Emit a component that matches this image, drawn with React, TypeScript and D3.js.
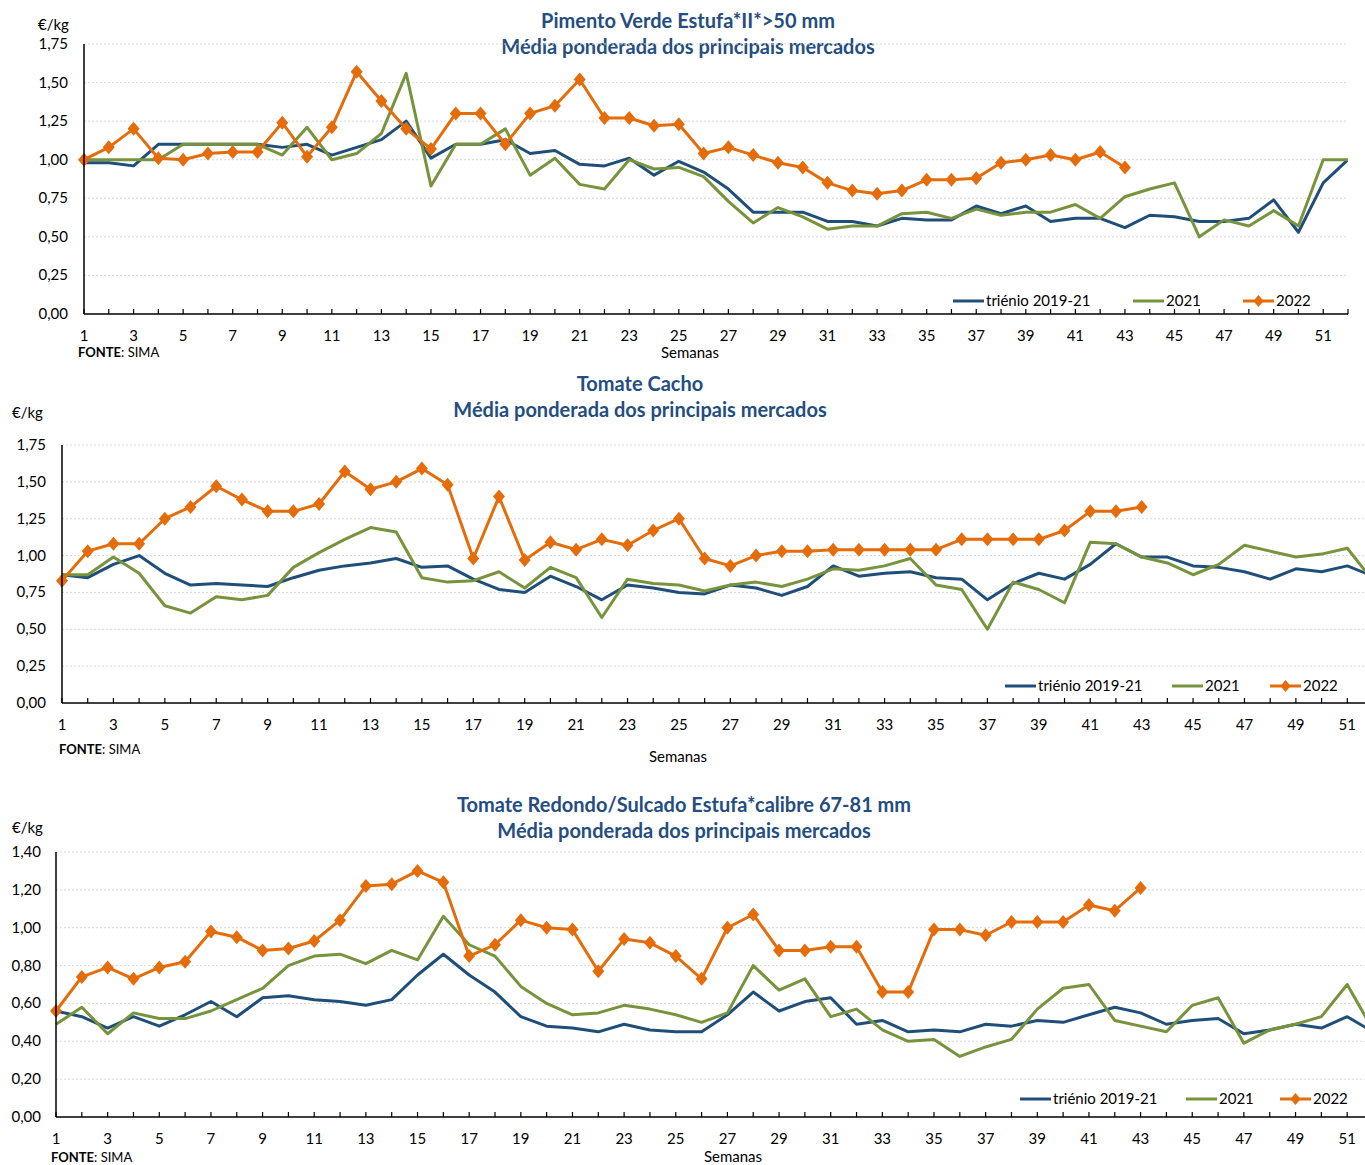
import React from "react";
import * as d3 from "d3";

const weeks = d3.range(1, 53);

// Chart 1: Pimento Verde Estufa*II*>50 mm
const pim_trienio = [0.98,0.98,0.96,1.10,1.10,1.10,1.10,1.10,1.08,1.10,1.03,1.08,1.13,1.25,1.01,1.10,1.10,1.13,1.04,1.06,0.97,0.96,1.01,0.90,0.99,0.92,0.81,0.66,0.66,0.66,0.60,0.60,0.57,0.62,0.61,0.61,0.70,0.65,0.70,0.60,0.62,0.62,0.56,0.64,0.63,0.60,0.60,0.62,0.74,0.53,0.85,1.00];
const pim_2021 = [1.00,1.00,1.00,1.00,1.10,1.10,1.10,1.10,1.03,1.21,1.00,1.04,1.17,1.56,0.83,1.10,1.10,1.20,0.90,1.01,0.84,0.81,1.00,0.94,0.95,0.89,0.73,0.59,0.69,0.63,0.55,0.57,0.57,0.65,0.66,0.62,0.68,0.64,0.66,0.66,0.71,0.62,0.76,0.81,0.85,0.50,0.61,0.57,0.67,0.57,1.00,1.00];
const pim_2022 = [1.00,1.08,1.20,1.01,1.00,1.04,1.05,1.05,1.24,1.02,1.21,1.57,1.38,1.20,1.07,1.30,1.30,1.10,1.30,1.35,1.52,1.27,1.27,1.22,1.23,1.04,1.08,1.03,0.98,0.95,0.85,0.80,0.78,0.80,0.87,0.87,0.88,0.98,1.00,1.03,1.00,1.05,0.95];

// Chart 2: Tomate Cacho
const cacho_trienio = [0.87,0.85,0.94,1.00,0.88,0.80,0.81,0.80,0.79,0.85,0.90,0.93,0.95,0.98,0.92,0.93,0.84,0.77,0.75,0.86,0.79,0.70,0.80,0.78,0.75,0.74,0.80,0.78,0.73,0.79,0.93,0.86,0.88,0.89,0.85,0.84,0.70,0.81,0.88,0.84,0.94,1.08,0.99,0.99,0.93,0.92,0.89,0.84,0.91,0.89,0.93,0.86];
const cacho_2021 = [0.87,0.87,0.99,0.88,0.66,0.61,0.72,0.70,0.73,0.92,1.02,1.11,1.19,1.16,0.85,0.82,0.83,0.89,0.78,0.92,0.85,0.58,0.84,0.81,0.80,0.76,0.80,0.82,0.79,0.84,0.91,0.90,0.93,0.98,0.80,0.77,0.50,0.82,0.77,0.68,1.09,1.08,0.99,0.95,0.87,0.94,1.07,1.03,0.99,1.01,1.05,0.83];
const cacho_2022 = [0.83,1.03,1.08,1.08,1.25,1.33,1.47,1.38,1.30,1.30,1.35,1.57,1.45,1.50,1.59,1.48,0.98,1.40,0.97,1.09,1.04,1.11,1.07,1.17,1.25,0.98,0.93,1.00,1.03,1.03,1.04,1.04,1.04,1.04,1.04,1.11,1.11,1.11,1.11,1.17,1.30,1.30,1.33];

// Chart 3: Tomate Redondo/Sulcado Estufa*calibre 67-81 mm
const redondo_trienio = [0.56,0.53,0.47,0.53,0.48,0.54,0.61,0.53,0.63,0.64,0.62,0.61,0.59,0.62,0.75,0.86,0.75,0.66,0.53,0.48,0.47,0.45,0.49,0.46,0.45,0.45,0.54,0.66,0.56,0.61,0.63,0.49,0.51,0.45,0.46,0.45,0.49,0.48,0.51,0.50,0.54,0.58,0.55,0.49,0.51,0.52,0.44,0.46,0.49,0.47,0.53,0.45];
const redondo_2021 = [0.49,0.58,0.44,0.55,0.52,0.52,0.56,0.62,0.68,0.80,0.85,0.86,0.81,0.88,0.83,1.06,0.91,0.85,0.69,0.60,0.54,0.55,0.59,0.57,0.54,0.50,0.55,0.80,0.67,0.73,0.53,0.57,0.46,0.40,0.41,0.32,0.37,0.41,0.57,0.68,0.70,0.51,0.48,0.45,0.59,0.63,0.39,0.46,0.49,0.53,0.70,0.46];
const redondo_2022 = [0.56,0.74,0.79,0.73,0.79,0.82,0.98,0.95,0.88,0.89,0.93,1.04,1.22,1.23,1.30,1.24,0.85,0.91,1.04,1.00,0.99,0.77,0.94,0.92,0.85,0.73,1.00,1.07,0.88,0.88,0.90,0.90,0.66,0.66,0.99,0.99,0.96,1.03,1.03,1.03,1.12,1.09,1.21];

const seriesNames = ["triénio 2019-21", "2021", "2022"];
const titleLine2 = "Média ponderada dos principais mercados";

const BLUE = "#1F4E79";
const GREEN = "#77933C";
const ORANGE = "#E46C0A";
const TITLE = "#244D80";
const FONT = "Lato, 'Open Sans', sans-serif";

const fmt = (v: number, d: number) => v.toFixed(d).replace(".", ",");

type ChartCfg = {
  title: string;
  data: number[][];
  yMax: number;
  yStep: number;
  x0: number; x52: number; xEnd: number;
  yBottom: number; yTop: number;
  yLabelX: number;
  unitX: number; unitY: number;
  titleX: number; titleY: number;
  xLabelY: number;
  fonteX: number; fonteY: number;
  semanasX: number; semanasY: number;
  legendY: number; legendX: number[];
  clipId: string;
};

const charts: ChartCfg[] = [
  {
    title: "Pimento Verde Estufa*II*>50 mm",
    data: [pim_trienio, pim_2021, pim_2022],
    yMax: 1.75, yStep: 0.25,
    x0: 84, x52: 1348, xEnd: 1348,
    yBottom: 314, yTop: 44,
    yLabelX: 68,
    unitX: 38, unitY: 30,
    titleX: 688, titleY: 28,
    xLabelY: 341,
    fonteX: 78, fonteY: 357,
    semanasX: 690, semanasY: 358,
    legendY: 301, legendX: [953, 1133, 1243],
    clipId: "c1",
  },
  {
    title: "Tomate Cacho",
    data: [cacho_trienio, cacho_2021, cacho_2022],
    yMax: 1.75, yStep: 0.25,
    x0: 62, x52: 1373, xEnd: 1365,
    yBottom: 703, yTop: 445,
    yLabelX: 46,
    unitX: 12, unitY: 418,
    titleX: 640, titleY: 391,
    xLabelY: 730,
    fonteX: 59, fonteY: 754,
    semanasX: 678, semanasY: 762,
    legendY: 686, legendX: [1005, 1172, 1270],
    clipId: "c2",
  },
  {
    title: "Tomate Redondo/Sulcado Estufa*calibre 67-81 mm",
    data: [redondo_trienio, redondo_2021, redondo_2022],
    yMax: 1.4, yStep: 0.2,
    x0: 56, x52: 1373, xEnd: 1365,
    yBottom: 1117, yTop: 852,
    yLabelX: 41,
    unitX: 12, unitY: 833,
    titleX: 684, titleY: 812,
    xLabelY: 1144,
    fonteX: 51, fonteY: 1162,
    semanasX: 733, semanasY: 1162,
    legendY: 1099, legendX: [1020, 1186, 1280],
    clipId: "c3",
  },
];

const colors = [BLUE, GREEN, ORANGE];
const diamond = "M0,-7L6,0L0,7L-6,0Z";

function Chart({ c }: { c: ChartCfg }) {
  const x = d3.scaleLinear().domain([1, 52]).range([c.x0, c.x52]);
  const y = d3.scaleLinear().domain([0, c.yMax]).range([c.yBottom, c.yTop]);
  const yTicks = d3.range(0, c.yMax + 1e-9, c.yStep);
  const line = d3.line<number>().x((_, i) => x(weeks[i])).y((v) => y(v));
  const tickWeeks = weeks.filter((w) => x(w) <= c.xEnd + 0.5);
  const labelWeeks = tickWeeks.filter((w) => w % 2 === 1);
  return (
    <g fontFamily={FONT}>
      <defs>
        <clipPath id={c.clipId}>
          <rect x={c.x0 - 10} y={c.yTop - 20} width={c.xEnd - c.x0 + 10} height={c.yBottom - c.yTop + 30} />
        </clipPath>
      </defs>
      <text x={c.titleX} y={c.titleY} textAnchor="middle" fontSize={20} fontWeight="bold" fill={TITLE}>{c.title}</text>
      <text x={c.titleX} y={c.titleY + 26} textAnchor="middle" fontSize={20} fontWeight="bold" fill={TITLE}>{titleLine2}</text>
      <text x={c.unitX} y={c.unitY} fontSize={15} fill="#000">€/kg</text>
      {yTicks.map((t) => (
        <g key={t}>
          {t > 0 && (
            <line x1={c.x0} x2={c.xEnd} y1={y(t)} y2={y(t)} stroke="#D9D9D9" strokeWidth={1} strokeDasharray="2,2" />
          )}
          <text x={c.yLabelX} y={y(t) + 5} textAnchor="end" fontSize={15} fill="#000">{fmt(t, 2)}</text>
        </g>
      ))}
      <g clipPath={`url(#${c.clipId})`}>
        {c.data.map((s, k) => (
          <path key={k} d={line(s) || ""} fill="none" stroke={colors[k]} strokeWidth={3} strokeLinejoin="round" />
        ))}
        {c.data[2].map((v, i) => (
          <path key={i} d={diamond} transform={`translate(${x(weeks[i])},${y(v)})`} fill={ORANGE} />
        ))}
      </g>
      <line x1={c.x0} x2={c.x0} y1={c.yTop} y2={c.yBottom} stroke="#000" strokeWidth={1.5} />
      <line x1={c.x0} x2={c.xEnd} y1={c.yBottom} y2={c.yBottom} stroke="#000" strokeWidth={1.5} />
      {tickWeeks.map((w) => (
        <line key={w} x1={x(w)} x2={x(w)} y1={c.yBottom} y2={c.yBottom - 5} stroke="#000" strokeWidth={1.2} />
      ))}
      {labelWeeks.map((w) => (
        <text key={w} x={x(w)} y={c.xLabelY} textAnchor="middle" fontSize={15} fill="#000">{w}</text>
      ))}
      <text x={c.fonteX} y={c.fonteY} fontSize={13} fill="#000">
        <tspan fontWeight="bold">FONTE</tspan>
        <tspan>: SIMA</tspan>
      </text>
      <text x={c.semanasX} y={c.semanasY} textAnchor="middle" fontSize={15} fill="#000">Semanas</text>
      {seriesNames.map((n, k) => (
        <g key={n} transform={`translate(${c.legendX[k]},${c.legendY})`}>
          <line x1={0} x2={31} y1={0} y2={0} stroke={colors[k]} strokeWidth={3} />
          {k === 2 && <path d={diamond} transform="translate(15.5,0) scale(0.85)" fill={ORANGE} />}
          <text x={33} y={5} fontSize={15} fill="#000">{n}</text>
        </g>
      ))}
    </g>
  );
}

export default function App() {
  return (
    <svg width={1365} height={1165} style={{ position: "absolute", left: 0, top: 0, background: "#fff" }}>
      <rect width={1365} height={1165} fill="#fff" />
      {charts.map((c) => (
        <Chart key={c.clipId} c={c} />
      ))}
    </svg>
  );
}
